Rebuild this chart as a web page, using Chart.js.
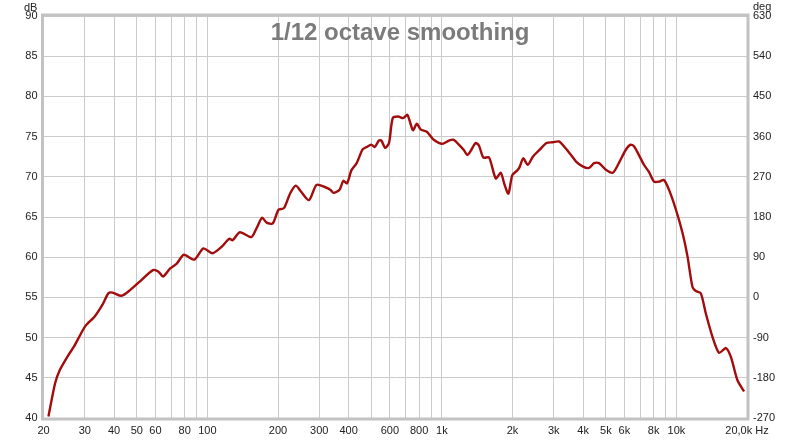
<!DOCTYPE html>
<html lang="en">
<head>
  <meta charset="UTF-8" />
  <title>1/12 octave smoothing</title>
  <script src="https://cdn.jsdelivr.net/npm/chart.js"></script>
  <style>
body {
  margin: 0;
  background: #fff;
  font-family: 'Liberation Sans', Arial, sans-serif;
}

.wrap {
  position: relative;
  width: 800px;
  height: 441px;
}

.titulo {
  position: absolute;
  left: 0;
  top: 20px;
  width: 800px;
  text-align: center;
  font-size: 24px;
  line-height: 24px;
  font-weight: bold;
  color: #7b7b7b;
}

.unidad {
  position: absolute;
  font-size: 11px;
  line-height: 11px;
  color: #222;
}
  </style>
</head>
<body>
  <div class="wrap">
    <canvas id="grafica" width="800" height="441"></canvas>
    <div class="titulo">1/12 octave smoothing</div>
    <div class="unidad" style="left: 24px; top: 2px;">dB</div>
    <div class="unidad" style="left: 753px; top: 1px;">deg</div>
  </div>

  <script>
    // frequency response
    const freqs = [21, 22.4, 23.5, 25.5, 27, 30.1, 33, 35.7, 37.8, 39.4, 43, 46.8, 51.6, 58.6, 61.9, 64.7, 69.4, 74, 79.3, 88,
      96.1, 105, 115, 124, 128, 137.5, 154, 162, 171, 179, 190, 201, 212, 225, 238, 250, 271, 292, 318, 334,
      345, 366, 380, 394, 411, 433, 459, 477, 500, 517, 538, 552, 573, 595, 617, 651, 683, 713, 752, 782,
      811, 862, 923, 1003, 1071, 1123, 1181, 1242, 1283, 1325, 1392, 1438, 1502, 1589, 1697, 1782, 1842, 1921, 1996, 2097,
      2144, 2222, 2323, 2443, 2619, 2792, 2975, 3154, 3334, 3553, 3734, 3979, 4241, 4454, 4678, 4989, 5353, 5681, 6068, 6377,
      6590, 6922, 7271, 7637, 8023, 8427, 8848, 9293, 9955, 10620, 11150, 11710, 12100, 12710, 13350, 14250, 15200, 16250, 17070, 18210,
      19440];
    const spl = [40.2, 44.3, 46.0, 47.8, 48.9, 51.4, 52.6, 54.1, 55.5, 55.6, 55.2, 55.9, 57.0, 58.4, 58.2, 57.6, 58.6, 59.2, 60.3, 59.7,
      61.1, 60.5, 61.3, 62.3, 62.1, 63.1, 62.5, 63.6, 64.9, 64.3, 64.2, 65.9, 66.1, 67.9, 68.9, 68.2, 67.1, 69.0, 68.7, 68.4,
      68.0, 68.4, 69.5, 69.2, 70.8, 71.7, 73.4, 73.7, 74.0, 73.7, 74.5, 74.5, 73.6, 74.2, 77.3, 77.5, 77.3, 77.7, 75.8, 76.6,
      75.9, 75.6, 74.6, 74.1, 74.5, 74.6, 74.0, 73.3, 72.7, 73.2, 74.2, 73.9, 72.4, 72.4, 69.8, 70.5, 69.2, 67.9, 70.2, 70.8,
      71.2, 72.3, 71.5, 72.5, 73.4, 74.2, 74.3, 74.4, 73.7, 72.7, 71.9, 71.3, 71.1, 71.7, 71.7, 70.9, 70.5, 71.7, 73.3, 74.0,
      73.8, 72.7, 71.5, 70.6, 69.4, 69.4, 69.6, 68.4, 65.9, 63.0, 60.1, 56.3, 55.8, 55.5, 53.0, 50.1, 48.1, 48.7, 47.6, 44.7,
      43.3];

    // vertical grid lines and their labels ('' = line only)
    const gridFreqs = [20, 30, 40, 50, 60, 70, 80, 90, 100, 200, 300, 400, 500, 600, 700, 800, 900,
      1000, 2000, 3000, 4000, 5000, 6000, 7000, 8000, 9000, 10000, 20000];
    const gridLabels = ['20', '30', '40', '50', '60', '', '80', '', '100', '200', '300', '400', '', '600', '', '800', '',
      '1k', '2k', '3k', '4k', '5k', '6k', '', '8k', '', '10k', '20,0k Hz'];

    const puntos = freqs.map((f, i) => ({ x: f, y: spl[i] }));
    const fuenteTicks = { family: "'Liberation Sans', Arial, sans-serif", size: 11 };

    // grey frame round the plot area
    const marco = {
      id: 'marco',
      beforeDatasetsDraw(chart) {
        const a = chart.chartArea;
        const ctx = chart.ctx;
        ctx.save();
        ctx.strokeStyle = '#c2c2c2';
        ctx.lineWidth = 3;
        ctx.strokeRect(a.left - 1, a.top - 1, a.right - a.left + 2, a.bottom - a.top + 2);
        ctx.restore();
      }
    };

    new Chart(document.getElementById('grafica'), {
      type: 'line',
      data: {
        datasets: [{
          data: puntos,
          borderColor: '#a20c0c',
          borderWidth: 2.4,
          pointRadius: 0,
          tension: 0.25,
          fill: false
        }]
      },
      options: {
        responsive: false,
        animation: false,
        layout: { padding: { top: 16, left: 0, right: 0, bottom: 0 } },
        plugins: { legend: { display: false }, tooltip: { enabled: false } },
        scales: {
          x: {
            type: 'logarithmic',
            min: 20,
            max: 20000,
            afterBuildTicks: s => { s.ticks = gridFreqs.map(v => ({ value: v })); },
            afterFit: s => { s.height = 23; },
            grid: { color: '#cbcbcb', lineWidth: 1, drawTicks: false },
            border: { display: false },
            ticks: {
              autoSkip: false,
              maxRotation: 0,
              padding: 6,
              color: '#222',
              font: fuenteTicks,
              callback: v => {
                const i = gridFreqs.indexOf(v);
                return i < 0 ? '' : gridLabels[i];
              }
            }
          },
          y: {
            position: 'left',
            min: 40,
            max: 90,
            afterFit: s => { s.width = 43.5; },
            grid: { color: '#cbcbcb', lineWidth: 1, drawTicks: false },
            border: { display: false },
            ticks: { stepSize: 5, padding: 6, color: '#222', font: fuenteTicks }
          },
          fase: {
            position: 'right',
            min: -270,
            max: 630,
            afterFit: s => { s.width = 53; },
            grid: { display: false, drawTicks: false },
            border: { display: false },
            ticks: { stepSize: 90, padding: 6, color: '#222', font: fuenteTicks }
          }
        }
      },
      plugins: [marco]
    });
  </script>
</body>
</html>
